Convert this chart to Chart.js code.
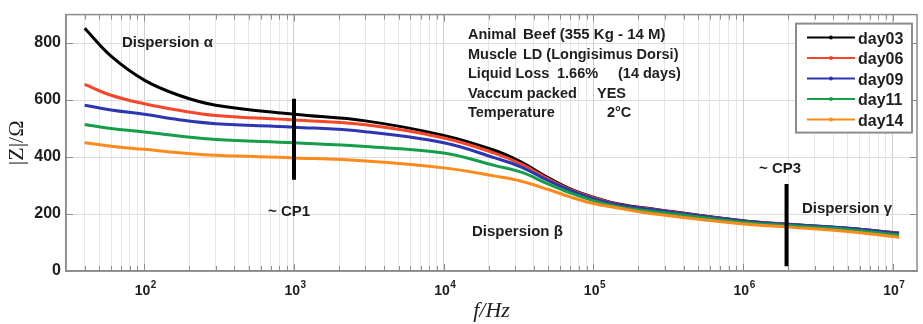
<!DOCTYPE html>
<html>
<head>
<meta charset="utf-8">
<script src="https://cdn.jsdelivr.net/npm/chart.js@4/dist/chart.umd.min.js"></script>
<style>
  html, body { margin: 0; padding: 0; background: #fff; }
</style>
</head>
<body>
<canvas id="zChart" width="923" height="324"></canvas>
<script>
const freqs = [40, 60, 100, 170, 300, 1000, 3000, 1e4, 2.2e4, 3.3e4, 5e4, 7e4, 1e5, 1.5e5, 2.5e5, 1e6, 2e6, 5e6, 1.1e7];

// |Z| in ohm for each day
const day03 = [852, 754, 670, 617, 582, 550, 527, 476, 423, 382, 327, 288, 259, 234, 218, 176, 164, 150, 133];
const day06 = [655, 617, 587, 564, 546, 530, 513, 467, 413, 375, 323, 286, 257, 232, 216, 175, 163, 149, 132];
const day09 = [582, 565, 550, 531, 517, 505, 489, 450, 397, 365, 317, 283, 254, 231, 215, 175, 163, 150, 131];
const day11 = [514, 500, 488, 474, 462, 450, 437, 414, 370, 347, 305, 274, 247, 225, 209, 171, 160, 146, 126];
const day14 = [450, 438, 427, 415, 406, 397, 386, 362, 333, 315, 286, 260, 237, 220, 201, 165, 154, 139, 118];

const seriesNames = ['day03', 'day06', 'day09', 'day11', 'day14'];
const seriesValues = [day03, day06, day09, day11, day14];
const seriesColors = ['#000000', '#f8462a', '#2b36b0', '#149e4a', '#ff8a1c'];

const yTicks = [0, 200, 400, 600, 800];
const xDecades = [2, 3, 4, 5, 6, 7];

// characteristic-point markers: frequency and |Z| span
const cp1 = { f: 1000, from: 320, to: 605 };
const cp3 = { f: 1.95e6, from: 17, to: 305 };

const X_MIN = 30, X_MAX = 1.45e7;

function buildXTicks() {
  const t = [];
  for (let e = 1; e <= 7; e++) {
    for (let m = 1; m <= 9; m++) {
      const v = m * Math.pow(10, e);
      if (v > X_MIN && v < X_MAX) t.push({ value: v, major: m === 1 });
    }
  }
  return t;
}

const textColor = '#1e1e1e';
const labelFont = 'bold 15px "Liberation Sans", Arial, sans-serif';
const infoFont = 'bold 14.5px "Liberation Sans", Arial, sans-serif';

// annotation text, canvas pixels (x = left edge, y = baseline)
const notes = [
  { t: 'Dispersion α', x: 122, y: 47 },
  { t: '~ CP1', x: 268, y: 216 },
  { t: 'Dispersion β', x: 472, y: 236 },
  { t: '~ CP3', x: 759, y: 173 },
  { t: 'Dispersion γ', x: 802, y: 213 }
];
const info = [
  { t: 'Animal', x: 468, y: 39 }, { t: 'Beef (355 Kg - 14 M)', x: 523, y: 39, f: labelFont },
  { t: 'Muscle', x: 468, y: 59 }, { t: 'LD (Longisimus Dorsi)', x: 523, y: 59 },
  { t: 'Liquid Loss', x: 468, y: 78 }, { t: '1.66%', x: 557, y: 78 }, { t: '(14 days)', x: 618, y: 78 },
  { t: 'Vaccum packed', x: 468, y: 98 }, { t: 'YES', x: 597, y: 98 },
  { t: 'Temperature', x: 468, y: 117 }, { t: '2°C', x: 607, y: 117 }
];

const overlay = {
  id: 'overlay',
  afterDraw(chart) {
    const { ctx, chartArea: a, scales: { x, y } } = chart;
    ctx.save();

    // frame
    ctx.strokeStyle = '#8c8c8c';
    ctx.lineWidth = 1.5;
    ctx.strokeRect(a.left, a.top, a.right - a.left, a.bottom - a.top);

    // inward tick marks
    ctx.lineWidth = 1;
    ctx.beginPath();
    x.ticks.forEach(t => {
      const px = Math.round(x.getPixelForValue(t.value)) + 0.5;
      const len = t.major ? 7 : 5;
      ctx.moveTo(px, a.bottom); ctx.lineTo(px, a.bottom - len);
      ctx.moveTo(px, a.top); ctx.lineTo(px, a.top + len);
    });
    y.ticks.forEach(t => {
      const py = Math.round(y.getPixelForValue(t.value)) + 0.5;
      ctx.moveTo(a.left, py); ctx.lineTo(a.left + 7, py);
      ctx.moveTo(a.right, py); ctx.lineTo(a.right - 7, py);
    });
    ctx.stroke();

    // x tick labels 10^n
    ctx.fillStyle = textColor;
    ctx.textBaseline = 'alphabetic';
    ctx.textAlign = 'left';
    xDecades.forEach(e => {
      const px = x.getPixelForValue(Math.pow(10, e));
      ctx.font = 'bold 14px "Liberation Sans", Arial, sans-serif';
      const w1 = ctx.measureText('10').width;
      ctx.font = 'bold 10px "Liberation Sans", Arial, sans-serif';
      const w2 = ctx.measureText(String(e)).width;
      const start = px - (w1 + w2) / 2 + 1;
      ctx.font = 'bold 14px "Liberation Sans", Arial, sans-serif';
      ctx.fillText('10', start, 295);
      ctx.font = 'bold 10px "Liberation Sans", Arial, sans-serif';
      ctx.fillText(String(e), start + w1 + 0.5, 288);
    });

    // notes
    ctx.font = labelFont;
    notes.forEach(n => ctx.fillText(n.t, n.x, n.y));
    info.forEach(n => {
      ctx.font = n.f || infoFont;
      ctx.fillText(n.t, n.x, n.y);
    });

    // legend
    const bx = a.right - 121, by = a.top + 9, bw = 116, bh = 109;
    ctx.fillStyle = '#fff';
    ctx.fillRect(bx, by, bw, bh);
    ctx.strokeStyle = '#8c8c8c';
    ctx.lineWidth = 2;
    ctx.strokeRect(bx, by, bw, bh);
    ctx.font = 'bold 16px "Liberation Sans", Arial, sans-serif';
    seriesNames.forEach((name, i) => {
      const cy = by + 14 + i * 20.5;
      ctx.strokeStyle = seriesColors[i];
      ctx.lineWidth = 2;
      ctx.beginPath();
      ctx.moveTo(bx + 11, cy); ctx.lineTo(bx + 59, cy);
      ctx.stroke();
      ctx.fillStyle = seriesColors[i];
      ctx.beginPath();
      ctx.arc(bx + 35, cy, 2, 0, Math.PI * 2);
      ctx.fill();
      ctx.fillStyle = textColor;
      ctx.fillText(name, bx + 62, cy + 6);
    });

    ctx.restore();
  }
};

const datasets = seriesNames.map((name, i) => ({
  label: name,
  data: freqs.map((f, j) => ({ x: f, y: seriesValues[i][j] })),
  borderColor: seriesColors[i],
  borderWidth: 3,
  pointRadius: 0,
  tension: 0.4,
  order: 5 - i
}));

[cp1, cp3].forEach(cp => {
  datasets.push({
    label: '',
    data: [{ x: cp.f, y: cp.from }, { x: cp.f, y: cp.to }],
    borderColor: '#000',
    borderWidth: 4,
    borderCapStyle: 'butt',
    pointRadius: 0,
    tension: 0,
    order: -1
  });
});

new Chart(document.getElementById('zChart'), {
  type: 'line',
  data: { datasets },
  options: {
    responsive: false,
    animation: false,
    layout: { padding: { top: 7, right: 6, left: 0, bottom: 0 } },
    plugins: { legend: { display: false }, tooltip: { enabled: false } },
    scales: {
      x: {
        type: 'logarithmic',
        min: X_MIN,
        max: X_MAX,
        afterBuildTicks: s => { s.ticks = buildXTicks(); },
        afterFit: s => { s.height = 53; },
        ticks: { display: false, autoSkip: false },
        grid: {
          color: c => (c.tick && c.tick.major) ? '#d0d0d0' : '#e6e6e6',
          drawTicks: false
        },
        border: { color: '#8c8c8c', width: 1.5 },
        title: {
          display: true,
          text: 'f/Hz',
          color: textColor,
          font: { family: '"Liberation Serif", serif', size: 22, style: 'italic' },
          padding: { top: 3, bottom: 0 }
        }
      },
      y: {
        min: 0,
        max: 900,
        afterBuildTicks: s => { s.ticks = yTicks.map(v => ({ value: v })); },
        afterFit: s => { s.width = 66; },
        ticks: {
          color: textColor,
          padding: 5,
          font: { family: '"Liberation Sans", Arial, sans-serif', size: 16, weight: 'bold' }
        },
        grid: { color: '#dcdcdc', drawTicks: false },
        border: { color: '#8c8c8c', width: 1.5 },
        title: {
          display: true,
          text: '|Z|/Ω',
          color: textColor,
          font: { family: '"Liberation Serif", serif', size: 22 },
          padding: { top: 4, bottom: 0 }
        }
      }
    }
  },
  plugins: [overlay]
});
</script>
</body>
</html>
